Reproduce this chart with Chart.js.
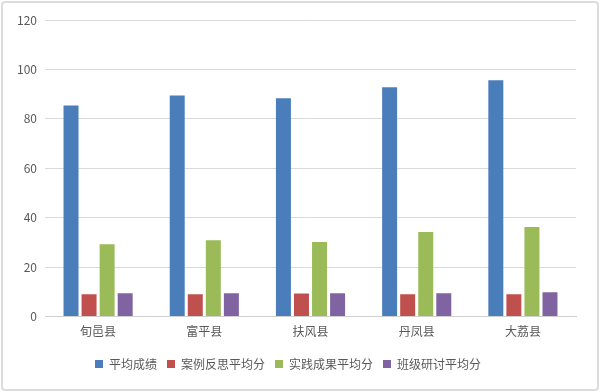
<!DOCTYPE html>
<html><head><meta charset="utf-8">
<script src="https://cdn.jsdelivr.net/npm/chart.js@4/dist/chart.umd.min.js"></script>
<style>
html,body{margin:0;padding:0;background:#fff;}
#wrap{position:relative;width:600px;height:392px;}
#frame{position:absolute;left:1px;top:1px;width:594px;height:386px;border:2px solid #dcdcdc;border-radius:4px;pointer-events:none;}
</style></head>
<body><div id="wrap"><canvas id="c" width="600" height="392"></canvas><div id="frame"></div></div>
<script>
const categories = ['旬邑县','富平县','扶风县','丹凤县','大荔县'];
const seriesNames = ['平均成绩','案例反思平均分','实践成果平均分','班级研讨平均分'];
const avgScore = [85.4, 89.5, 88.3, 92.8, 95.6];
const caseScore = [9.0, 9.0, 9.3, 9.0, 9.0];
const practiceScore = [29.3, 30.9, 30.2, 34.2, 36.3];
const discussScore = [9.4, 9.4, 9.4, 9.4, 9.9];
const yTicks = [0, 20, 40, 60, 80, 100, 120];
const colors = ['#4a7ebb','#c0504d','#9bbb59','#8064a2'];
const values = [avgScore, caseScore, practiceScore, discussScore];

new Chart(document.getElementById('c'), {
  type: 'bar',
  data: {
    labels: categories,
    datasets: seriesNames.map((n,i)=>({label:n,data:values[i],backgroundColor:colors[i],barPercentage:0.83,categoryPercentage:0.68}))
  },
  options: {
    responsive:false, animation:false,
    layout:{padding:{top:20,right:24,bottom:12,left:0}},
    plugins:{
      tooltip:{enabled:false},
      legend:{position:'bottom',labels:{boxWidth:8,boxHeight:8,padding:10,color:'#595959',font:{family:'"Noto Sans CJK SC", sans-serif',size:12}}}
    },
    scales:{
      x:{grid:{display:false},border:{color:'#d0d0d0'},afterFit:s=>{s.height+=9;},ticks:{color:'#595959',padding:0,font:{family:'"Noto Sans CJK SC", sans-serif',size:12}}},
      y:{min:0,max:120,afterFit:s=>{s.width=45;},
        afterBuildTicks:s=>{s.ticks=yTicks.map(v=>({value:v}));},
        grid:{color:'#d9d9d9',drawTicks:false},border:{display:false},
        ticks:{color:'#595959',padding:8,font:{family:'"Noto Sans CJK SC", sans-serif',size:12}}}
    }
  }
});
</script></body></html>
